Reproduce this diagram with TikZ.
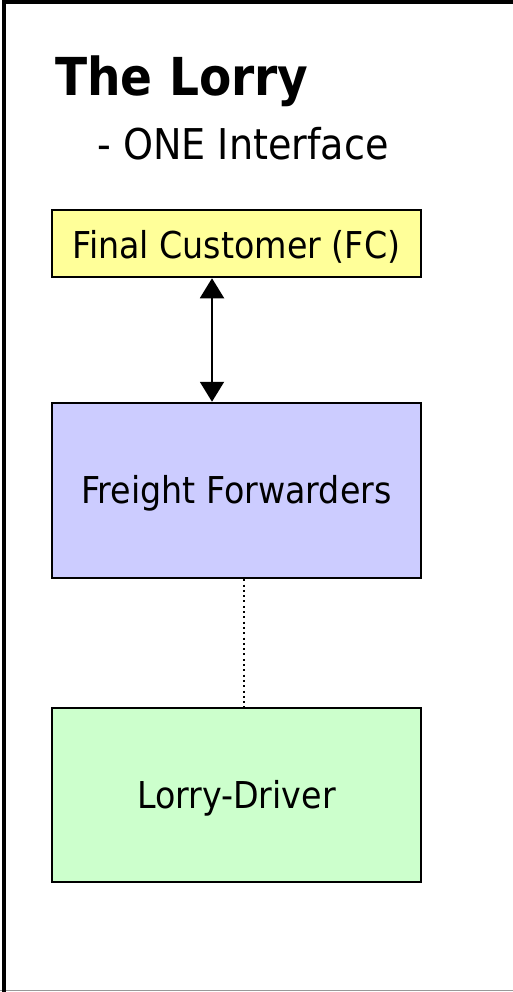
\documentclass[tikz,border=0pt]{standalone}
\usepackage{fontspec}
\setmainfont{DejaVu Sans Condensed}
\usetikzlibrary{arrows.meta}
\definecolor{fcyellow}{HTML}{FFFF99}
\definecolor{ffblue}{HTML}{CCCCFF}
\definecolor{ldgreen}{HTML}{CCFFCC}
\definecolor{framegray}{HTML}{999999}
\tikzset{
  box/.style={draw=black, line width=2.5pt, inner sep=0pt, text=black, font=\fontsize{37}{44}\selectfont},
  boxtext/.style={inner sep=0pt, text=black, font=\fontsize{37}{44}\selectfont, yshift=-3pt},
  link/.style={line width=2pt, black},
  dotlink/.style={line width=2pt, black, dash pattern=on 2pt off 3.3pt},
}
\begin{document}
\begin{tikzpicture}[x=1pt,y=1pt]
\useasboundingbox (0,0) rectangle (513,-992);
\fill[white] (0,0) rectangle (513,-992);
% frame
\draw[framegray, line width=1.5pt] (0,-990.5) -- (513,-990.5);
\draw[black, line width=4.5pt] (4,-992) -- (4,-2) -- (513,-2);
% titles
\node[anchor=base west, inner sep=0pt, font=\fontsize{52.3}{58}\selectfont\bfseries] (title) at (55,-96) {The Lorry};
\node[anchor=base west, inner sep=0pt, font=\fontsize{42.4}{48}\selectfont] (subtitle) at (97,-160) {- ONE Interface};
% boxes
\node[box, fill=fcyellow, minimum width=369pt, minimum height=67pt] (fc) at (236.5,-243.5) {};
\node[box, fill=ffblue, minimum width=369pt, minimum height=175pt] (ff) at (236.5,-490.5) {};
\node[box, fill=ldgreen, minimum width=369pt, minimum height=174pt] (ld) at (236.5,-795) {};
\node[boxtext] (fctext) at (fc.center) {Final Customer (FC)};
\node[boxtext] (fftext) at (ff.center) {Freight Forwarders};
\node[boxtext] (ldtext) at (ld.center) {Lorry-Driver};
% connectors
\draw[link, {Triangle[width=24pt,length=20pt]}-{Triangle[width=24pt,length=20pt]}] (fc.south -| 212,0) -- (ff.north -| 212,0);
\draw[dotlink] (ff.south -| 244,0) -- (ld.north -| 244,0);
\end{tikzpicture}
\end{document}
